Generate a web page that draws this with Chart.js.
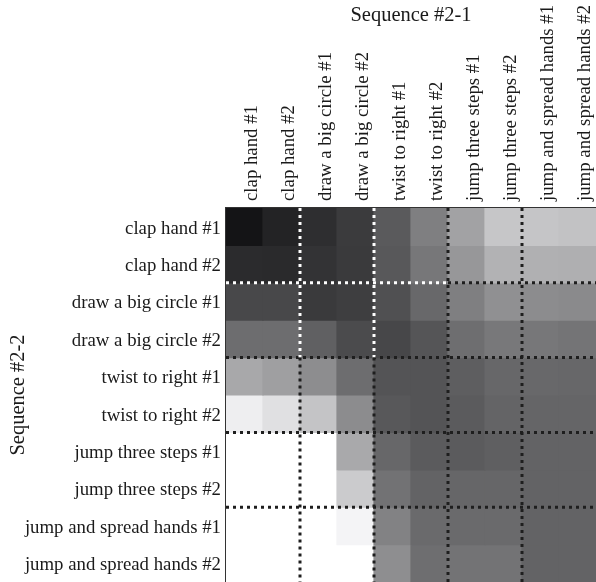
<!DOCTYPE html>
<html>
<head>
<meta charset="utf-8">
<script src="https://cdn.jsdelivr.net/npm/chart.js@4.4.1/dist/chart.umd.min.js"></script>
<style>
  html, body { margin: 0; padding: 0; background: #ffffff; }
  #wrap { width: 596px; height: 582px; position: relative; }
</style>
</head>
<body>
<div id="wrap"><canvas id="c" width="596" height="582"></canvas></div>
<script>
// Column categories (Sequence #2-1) and row categories (Sequence #2-2)
const colLabels = ["clap hand #1", "clap hand #2", "draw a big circle #1", "draw a big circle #2",
  "twist to right #1", "twist to right #2", "jump three steps #1", "jump three steps #2",
  "jump and spread hands #1", "jump and spread hands #2"];
const rowLabels = colLabels.slice();

// Cell gray levels (0 = black, 255 = white), one array per row
const rowClap1   = [20, 35, 46, 59, 90, 127, 162, 198, 197, 194];
const rowClap2   = [43, 42, 51, 58, 88, 119, 151, 178, 176, 175];
const rowCircle1 = [72, 72, 58, 62, 80, 104, 127, 144, 140, 138];
const rowCircle2 = [109, 109, 96, 75, 71, 85, 110, 120, 119, 116];
const rowTwist1  = [168, 159, 141, 109, 84, 84, 94, 103, 104, 103];
const rowTwist2  = [238, 224, 196, 140, 88, 84, 91, 100, 101, 101];
const rowJump1   = [255, 255, 255, 169, 103, 91, 91, 95, 99, 99];
const rowJump2   = [255, 255, 255, 203, 114, 99, 102, 102, 99, 99];
const rowSpread1 = [255, 255, 255, 244, 130, 106, 106, 106, 99, 99];
const rowSpread2 = [255, 255, 255, 255, 142, 110, 115, 115, 99, 99];
const grayRows = [rowClap1, rowClap2, rowCircle1, rowCircle2, rowTwist1, rowTwist2,
  rowJump1, rowJump2, rowSpread1, rowSpread2];

// Group boundaries (every two actions)
const groupBounds = [2, 4, 6, 8];

function grayCss(g) {
  const b = Math.min(255, g + 2);
  return `rgb(${g},${g},${b})`;
}

const datasets = grayRows.map((row, r) => ({
  label: rowLabels[r],
  data: row.map(() => [r, r + 1]),
  backgroundColor: row.map(grayCss),
  borderWidth: 0,
  inflateAmount: 0.6,
  barPercentage: 1,
  categoryPercentage: 1,
  grouped: false
}));

const dottedPlugin = {
  id: 'dotted',
  afterDatasetsDraw(chart) {
    const ctx = chart.ctx;
    const xs = chart.scales.x, ys = chart.scales.y;
    const n = colLabels.length;
    const cw = (xs.getPixelForValue(1) - xs.getPixelForValue(0));
    const xb = k => xs.getPixelForValue(0) - cw / 2 + k * cw;
    const yb = v => ys.getPixelForValue(v);
    ctx.save();
    ctx.lineWidth = 3;
    ctx.setLineDash([3, 4]);
    function seg(x1, y1, x2, y2, color) {
      ctx.strokeStyle = color;
      ctx.beginPath();
      ctx.moveTo(x1, y1);
      ctx.lineTo(x2, y2);
      ctx.stroke();
    }
    const dark = '#1e1e1e';
    groupBounds.forEach(b => {
      const y = yb(b);
      if (b === 2) {
        seg(xb(0), y, xb(6), y, '#ffffff');
        seg(xb(6), y, xb(n), y, dark);
      } else {
        seg(xb(0), y, xb(n), y, dark);
      }
    });
    groupBounds.forEach(b => {
      const x = xb(b);
      if (b === 2 || b === 4) {
        seg(x, yb(0), x, yb(4), '#ffffff');
        seg(x, yb(4), x, yb(n), dark);
      } else {
        seg(x, yb(0), x, yb(n), dark);
      }
    });
    ctx.restore();
  }
};

Chart.defaults.font.family = '"Liberation Serif", "Times New Roman", serif';
Chart.defaults.color = '#1a1a1a';

new Chart(document.getElementById('c'), {
  type: 'bar',
  data: { labels: colLabels, datasets },
  plugins: [dottedPlugin],
  options: {
    responsive: false,
    animation: false,
    devicePixelRatio: 1,
    layout: { padding: 0 },
    plugins: { legend: { display: false }, tooltip: { enabled: false }, title: { display: false } },
    scales: {
      x: {
        type: 'category',
        position: 'top',
        offset: true,
        grid: { display: false, drawTicks: false },
        border: { display: true, color: '#333333', width: 2 },
        ticks: {
          autoSkip: false,
          minRotation: 90,
          maxRotation: 90,
          padding: 7,
          labelOffset: 30,
          font: { size: 18.8 },
          color: '#1a1a1a'
        },
        title: {
          display: true,
          text: 'Sequence #2-1',
          font: { size: 20.5 },
          color: '#1a1a1a',
          padding: { top: 3, bottom: 0 }
        },
        afterFit(scale) {
          scale.height = 208;
          scale.paddingLeft = 0; scale.paddingRight = 0;
        }
      },
      y: {
        type: 'linear',
        position: 'left',
        reverse: true,
        min: 0,
        max: 10,
        grid: { display: false, drawTicks: false },
        border: { display: true, color: '#333333', width: 2 },
        afterBuildTicks(axis) {
          axis.ticks = rowLabels.map((_, i) => ({ value: i + 0.5 }));
        },
        ticks: {
          autoSkip: false,
          padding: 5,
          labelOffset: 2,
          font: { size: 18.8 },
          color: '#1a1a1a',
          callback: (v, i) => rowLabels[i]
        },
        title: {
          display: true,
          text: 'Sequence #2-2',
          font: { size: 20.5 },
          color: '#1a1a1a',
          padding: { top: 6, bottom: 0 }
        },
        afterFit(scale) {
          scale.width = 226;
          scale.paddingTop = 0; scale.paddingBottom = 0;
        }
      }
    }
  }
});
</script>
</body>
</html>
